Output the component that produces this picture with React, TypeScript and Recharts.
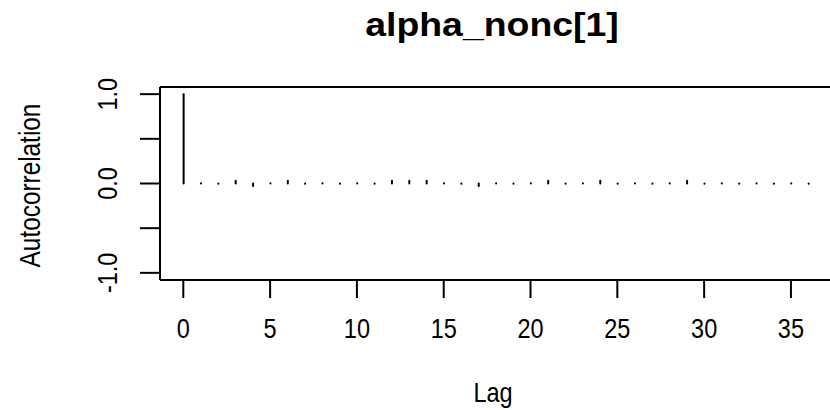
import React from 'react';
import { ComposedChart, Bar, XAxis, YAxis, ReferenceLine } from 'recharts';

const lags = [0, 1, 2, 3, 4, 5, 6, 7, 8, 9, 10, 11, 12, 13, 14, 15, 16, 17, 18, 19, 20, 21, 22, 23, 24, 25, 26, 27, 28, 29, 30, 31, 32, 33, 34, 35, 36];
const acfValues = [1.0, 0.004, -0.004, 0.03, -0.028, 0.004, 0.03, -0.004, 0.004, -0.004, 0.004, -0.004, 0.03, 0.03, 0.03, 0.004, -0.004, -0.028, 0.004, -0.004, 0.004, 0.03, -0.004, 0.004, 0.03, -0.004, 0.004, -0.004, 0.004, 0.03, -0.004, 0.004, -0.004, 0.004, -0.004, 0.004, -0.004];
const xTicks = [0, 5, 10, 15, 20, 25, 30, 35];
const yTicks = [-1, -0.5, 0, 0.5, 1];
const yLabelled = [-1, 0, 1];
const titleText = 'alpha_nonc[1]';
const xTitle = 'Lag';
const yTitle = 'Autocorrelation';

const data = lags.map((lag, i) => ({ lag, acf: acfValues[i] }));

const FONT = '"Liberation Sans", Arial, sans-serif';
const NARROW = 0.84;

const Stick = (props: any) => {
  const { x, y, width, height } = props;
  const cx = x + width / 2;
  return (
    <line x1={cx} x2={cx} y1={y} y2={y + height} stroke="#000" strokeWidth={2} strokeLinecap="round" />
  );
};

const XTick = (props: any) => {
  const { x, y, payload } = props;
  return (
    <text
      transform={`translate(${x},${y + 40}) scale(${NARROW},1)`}
      textAnchor="middle"
      fontSize={28}
      fontFamily={FONT}
      fill="#000"
    >
      {String(payload.value)}
    </text>
  );
};

const YTick = (props: any) => {
  const { x, y, payload } = props;
  if (!yLabelled.includes(payload.value)) return <g />;
  return (
    <text
      transform={`translate(${x - 23},${y}) rotate(-90) scale(${NARROW},1)`}
      textAnchor="middle"
      fontSize={28}
      fontFamily={FONT}
      fill="#000"
    >
      {payload.value.toFixed(1)}
    </text>
  );
};

const XTitle = (props: any) => {
  const { viewBox } = props;
  const cx = viewBox.x + viewBox.width / 2 - 2;
  return (
    <text
      transform={`translate(${cx},${viewBox.y + 122}) scale(${NARROW},1)`}
      textAnchor="middle"
      fontSize={28}
      fontFamily={FONT}
      fill="#000"
    >
      {xTitle}
    </text>
  );
};

const YTitle = (props: any) => {
  const { viewBox } = props;
  const cy = viewBox.y + viewBox.height / 2 + 2;
  return (
    <text
      transform={`translate(${viewBox.x - 60},${cy}) rotate(-90) scale(${NARROW},1)`}
      textAnchor="middle"
      fontSize={29}
      fontFamily={FONT}
      fill="#000"
    >
      {yTitle}
    </text>
  );
};

export default function App() {
  return (
    <div style={{ position: 'absolute', left: 0, top: 0, background: '#fff' }}>
      <ComposedChart
        width={830}
        height={410}
        data={data}
        margin={{ top: 87, right: 0, bottom: 70, left: 100 }}
      >
        <XAxis
          dataKey="lag"
          type="number"
          domain={[-1.342, 37.25]}
          ticks={xTicks}
          interval={0}
          allowDataOverflow
          height={60}
          tickSize={18}
          tickMargin={0}
          axisLine={{ stroke: '#000', strokeWidth: 2 }}
          tickLine={{ stroke: '#000', strokeWidth: 2 }}
          tick={<XTick />}
          label={<XTitle />}
        />
        <YAxis
          type="number"
          domain={[-1.08, 1.08]}
          ticks={yTicks}
          interval={0}
          allowDataOverflow
          width={60}
          tickSize={20}
          tickMargin={0}
          axisLine={{ stroke: '#000', strokeWidth: 2 }}
          tickLine={{ stroke: '#000', strokeWidth: 2 }}
          tick={<YTick />}
          label={<YTitle />}
        />
        <ReferenceLine y={1.08} stroke="#000" strokeWidth={2} ifOverflow="visible" />
        <Bar dataKey="acf" barSize={2} shape={<Stick />} isAnimationActive={false} />
        <text
          x={492}
          y={36}
          textAnchor="middle"
          fontSize={34}
          fontWeight="bold"
          fontFamily={FONT}
          fill="#000"
          transform="translate(492,0) scale(1.1,1) translate(-492,0)"
        >
          {titleText}
        </text>
      </ComposedChart>
    </div>
  );
}
